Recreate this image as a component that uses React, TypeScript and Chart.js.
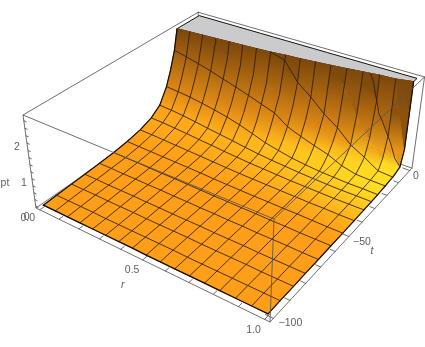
import React, { useEffect, useRef } from "react";
import { Chart, registerables } from "chart.js";

Chart.register(...registerables);

const W = 425;
const H = 347;

// Data
const rCols = [0, 0.0625, 0.125, 0.1875, 0.25, 0.3125, 0.375, 0.4375, 0.5, 0.5625, 0.625, 0.6875, 0.75, 0.8125, 0.875, 0.9375, 1];
const tRows = [-100, -92.8, -84.5, -76.9, -68.2, -59.5, -51, -42.5, -35, -29, -24, -21, -17.8, -14.5, -11.5, -8.5, -5.6, -3.3, -3.1, -2.9];
const meshRows = [-92.8, -84.5, -76.9, -68.2, -59.5, -51, -42.5, -35, -29, -24, -17.8, -11.5];
const n = null;
const z100 = [0.01, 0.01, 0.01, 0.01, 0.01, 0.01, 0.01, 0.01, 0, 0, 0, 0, 0, 0, 0, 0, 0];
const z92 = [0.03, 0.03, 0.03, 0.03, 0.02, 0.02, 0.02, 0.02, 0.02, 0.02, 0.01, 0.01, 0.01, 0.01, 0.01, 0.01, 0.01];
const z84 = [0.05, 0.05, 0.05, 0.04, 0.04, 0.04, 0.03, 0.03, 0.03, 0.03, 0.02, 0.02, 0.02, 0.02, 0.01, 0.01, 0.01];
const z76 = [0.07, 0.07, 0.06, 0.06, 0.06, 0.05, 0.05, 0.04, 0.04, 0.04, 0.03, 0.03, 0.03, 0.02, 0.02, 0.02, 0.02];
const z68 = [0.09, 0.09, 0.08, 0.08, 0.07, 0.07, 0.06, 0.06, 0.05, 0.05, 0.04, 0.04, 0.03, 0.03, 0.03, 0.02, 0.02];
const z60 = [0.12, 0.11, 0.11, 0.1, 0.09, 0.09, 0.08, 0.07, 0.06, 0.06, 0.05, 0.05, 0.04, 0.04, 0.03, 0.03, 0.03];
const z52 = [0.17, 0.16, 0.15, 0.14, 0.13, 0.12, 0.11, 0.09, 0.08, 0.07, 0.06, 0.06, 0.05, 0.05, 0.04, 0.03, 0.03];
const z44 = [0.25, 0.24, 0.22, 0.2, 0.18, 0.16, 0.14, 0.12, 0.1, 0.09, 0.08, 0.07, 0.06, 0.05, 0.05, 0.04, 0.04];
const z37 = [0.385, 0.37, 0.34, 0.31, 0.27, 0.24, 0.2, 0.17, 0.14, 0.12, 0.1, 0.08, 0.07, 0.06, 0.05, 0.05, 0.05];
const z31 = [0.594, 0.57, 0.53, 0.48, 0.42, 0.37, 0.32, 0.26, 0.21, 0.17, 0.14, 0.11, 0.09, 0.07, 0.06, 0.06, 0.055];
const z24 = [1.02, 0.99, 0.95, 0.89, 0.82, 0.74, 0.64, 0.51, 0.38, 0.29, 0.21, 0.16, 0.12, 0.1, 0.08, 0.08, 0.07];
const z21 = [1.42, 1.38, 1.32, 1.24, 1.14, 1.03, 0.92, 0.79, 0.66, 0.5, 0.38, 0.3, 0.23, 0.15, 0.1, 0.09, 0.08];
const z18 = [1.95, 1.87, 1.78, 1.68, 1.56, 1.45, 1.33, 1.2, 1.07, 0.8, 0.65, 0.52, 0.4, 0.22, 0.12, 0.1, 0.09];
const z14 = [n, n, n, 2.4, 2.15, 2.0, 1.85, 1.7, 1.5, 1.25, 1.05, 0.85, 0.65, 0.4, 0.25, 0.13, 0.11];
const z11 = [n, n, n, n, n, n, n, n, 2.4, 1.9, 1.6, 1.25, 0.98, 0.62, 0.4, 0.15, 0.12];
const z8 = [n, n, n, n, n, n, n, n, n, n, n, n, 2.1, 1.4, 0.85, 0.4, 0.16];
const z5 = [n, n, n, n, n, n, n, n, n, n, n, n, n, n, 1.85, 1.0, 0.21];
const z3a = [n, n, n, n, n, n, n, n, n, n, n, n, n, n, n, n, 0.65];
const z3b = [n, n, n, n, n, n, n, n, n, n, n, n, n, n, n, n, 1.8];
const z3c = [n, n, n, n, n, n, n, n, n, n, n, n, n, n, n, n, n];
const zRows = [z100, z92, z84, z76, z68, z60, z52, z44, z37, z31, z24, z21, z18, z14, z11, z8, z5, z3a, z3b, z3c];
const clipT = [-15.6, -15.1, -14.6, -14.1, -13.6, -13.1, -12.6, -12, -11, -10.4, -9.5, -8.6, -7.6, -6.5, -5.4, -4.8, -3];
const zClip = 2.53;
const wiggleT = -5.6;
const wiggleR = [0.84, 0.855, 0.865, 0.875, 0.89, 0.905, 0.925, 0.95, 0.975, 1];
const wiggleZ = [2.5, 2.3, 2.05, 1.85, 1.5, 1.35, 1.1, 0.8, 0.4, 0.21];

const rRange = [-0.02, 1.02];
const tRange = [-102, 2];
const zRange = [-0.05, 2.55];
const rTicks = [0, 0.1, 0.2, 0.3, 0.4, 0.5, 0.6, 0.7, 0.8, 0.9, 1];
const tTicks = [-100, -90, -80, -70, -60, -50, -40, -30, -20, -10, 0];
const zTicks = [0, 0.2, 0.4, 0.6, 0.8, 1, 1.2, 1.4, 1.6, 1.8, 2, 2.2, 2.4];

// [text, r, t, z, dx, dy, italic]
const labels: [string, number, number, number, number, number, boolean][] = [
  ["0.0", 0, -102, -0.05, -12, 8, false],
  ["0.5", 0.5, -102, -0.05, -10.5, 10, false],
  ["1.0", 1, -102, -0.05, -11, 11, false],
  ["r", 0.5, -102, -0.05, -20, 25, true],
  ["0", 1.02, 0, -0.05, 6, 6, false],
  ["\u221250", 1.02, -50, -0.05, 13, 6, false],
  ["\u2212100", 1.02, -100, -0.05, 17, 5, false],
  ["t", 1.02, -50, -0.05, 23, 15, true],
  ["0", -0.02, -102, 0, -9, 11, false],
  ["1", -0.02, -102, 1, -7, 11, false],
  ["2", -0.02, -102, 2, -9, 11, false],
  ["pt", -0.02, -102, 1, -26, 11, false],
];

// Camera of the picture, in box-normalised coordinates
function project(r: number, t: number, z: number) {
  const a = (r - rRange[0]) / (rRange[1] - rRange[0]);
  const b = (t - tRange[0]) / (tRange[1] - tRange[0]);
  const c = (z - zRange[0]) / (zRange[1] - zRange[0]);
  const w = 1 - 0.1629 * a + 0.21 * b - 0.0651 * c;
  return {
    x: (36 + 190.02 * a + 205.39 * b - 14.5 * c) / w,
    y: (208 + 61.55 * a - 93.5 * b - 100.49 * c) / w,
  };
}

function vertex(ti: number, ri: number) {
  const z = zRows[ti][ri];
  if (z === null) return { r: rCols[ri], t: clipT[ri], z: zClip, clipped: true };
  return { r: rCols[ri], t: tRows[ti], z, clipped: false };
}

const clamp = (v: number) => Math.max(0, Math.min(1, v));
const smooth = (a: number, b: number, v: number) => {
  const s = clamp((v - a) / (b - a));
  return s * s * (3 - 2 * s);
};
function shade(r: number, t: number, z: number) {
  const O = [255, 158, 24];
  const Y = [255, 225, 35];
  const D = [125, 72, 12];
  const y = smooth(-58, -16, t) * (0.25 + 0.75 * Math.pow(r, 1.5)) * (1 - smooth(0.25, 1.1, z));
  const d = clamp((z - 0.5) / 2);
  const c = O.map((o, i) => {
    const m = o + (Y[i] - o) * y;
    return Math.round(m + (D[i] - m) * d);
  });
  return `rgb(${c[0]},${c[1]},${c[2]})`;
}
const edgeZ = (p: { z: number }, q: { z: number }) => (p.z + q.z) / 2 + 0.35 * Math.abs(p.z - q.z);

const lineDs = (pts: { x: number; y: number }[], color: string, width: number) => ({
  data: pts,
  showLine: true,
  fill: false,
  borderColor: color,
  borderWidth: width,
  pointRadius: 0,
  borderCapStyle: "round",
  borderJoinStyle: "round",
  clip: false,
});

function buildDatasets(ctx: CanvasRenderingContext2D) {
  const out: any[] = [];
  const BOX = "rgba(85,85,85,0.85)";
  const [r0, r1] = rRange;
  const [t0, t1] = tRange;
  const [z0, z1] = zRange;
  const P = project;

  // box edges behind the surface
  out.push(lineDs([P(r0, t0, z0), P(r0, t1, z0), P(r1, t1, z0)], BOX, 1));
  out.push(lineDs([P(r0, t1, z0), P(r0, t1, z1)], BOX, 1));

  // clipped top
  const top = rCols.map((r, i) => P(r, clipT[i], zClip));
  const back = rCols.map((r) => P(r, 0, zClip)).reverse();
  const poly = [...top, ...back, top[0]];
  out.push({
    data: poly,
    showLine: true,
    fill: "shape",
    backgroundColor: "rgb(203,203,205)",
    borderColor: "rgb(20,15,10)",
    borderWidth: 1,
    pointRadius: 0,
    clip: false,
  });

  // surface cells
  for (let ti = 0; ti < tRows.length - 1; ti++) {
    for (let ri = 0; ri < rCols.length - 1; ri++) {
      const a = vertex(ti, ri);
      const b = vertex(ti, ri + 1);
      const c = vertex(ti + 1, ri + 1);
      const d = vertex(ti + 1, ri);
      if (a.clipped && b.clipped) continue;
      const pts = [a, b, c, d, a].map((v) => P(v.r, v.t, v.z));
      const p0 = { x: (pts[0].x + pts[1].x) / 2, y: (pts[0].y + pts[1].y) / 2 };
      const p1 = { x: (pts[2].x + pts[3].x) / 2, y: (pts[2].y + pts[3].y) / 2 };
      const g = ctx.createLinearGradient(p0.x, p0.y, p1.x, p1.y);
      const rm = (a.r + b.r) / 2;
      g.addColorStop(0, shade(rm, (a.t + b.t) / 2, edgeZ(a, b)));
      g.addColorStop(1, shade(rm, (c.t + d.t) / 2, edgeZ(c, d)));
      out.push({
        data: pts,
        showLine: true,
        fill: "shape",
        backgroundColor: g,
        borderColor: g,
        borderWidth: 1,
        pointRadius: 0,
        clip: false,
      });
    }
  }

  // mesh: constant r
  const MESH = "rgba(45,28,10,0.85)";
  const EDGE = "rgb(15,10,5)";
  rCols.forEach((r, ri) => {
    const pts = tRows.map((_, ti) => vertex(ti, ri)).map((v) => P(v.r, v.t, v.z));
    const edge = ri === 0 || ri === rCols.length - 1;
    out.push(lineDs(pts, edge ? EDGE : MESH, edge ? 1.2 : 1));
  });
  // mesh: constant t
  tRows.forEach((t, ti) => {
    if (!meshRows.includes(t)) return;
    const pts: { x: number; y: number }[] = [];
    rCols.forEach((_, ri) => {
      const v = vertex(ti, ri);
      const nx = ri < rCols.length - 1 ? vertex(ti, ri + 1) : v;
      if (v.clipped && nx.clipped) return;
      pts.push(P(v.r, v.t, v.z));
    });
    out.push(lineDs(pts, MESH, 1));
  });
  out.push(lineDs(wiggleR.map((r, i) => P(r, wiggleT, wiggleZ[i])), MESH, 1));
  // surface edge at the low end
  out.push(lineDs(rCols.map((r, ri) => P(r, tRows[0], z100[ri])), EDGE, 1.3));

  // box edges in front
  out.push(lineDs([P(r0, t1, z1), P(r1, t1, z1), P(r1, t0, z1), P(r0, t0, z1), P(r0, t1, z1)], BOX, 1));
  out.push(lineDs([P(r0, t0, z1), P(r0, t0, z0), P(r1, t0, z0), P(r1, t1, z0), P(r1, t1, z1)], BOX, 1));
  out.push(lineDs([P(r1, t0, z1), P(r1, t0, z0)], BOX, 1));

  // ticks
  rTicks.forEach((r) => {
    const len = r === 0 || r === 0.5 || r === 1 ? 3 : 2;
    out.push(lineDs([P(r, t0, z0), P(r, t0 + len, z0)], BOX, 1));
  });
  tTicks.forEach((t) => {
    const len = t % 50 === 0 ? 0.03 : 0.02;
    out.push(lineDs([P(r1, t, z0), P(r1 - len, t, z0)], BOX, 1));
  });
  zTicks.forEach((z) => {
    out.push(lineDs([P(r0, t0, z), P(r0 + 0.012, t0, z)], BOX, 1));
  });
  return out;
}

const textPlugin = {
  id: "boxLabels",
  afterDraw(chart: any) {
    const { ctx, scales } = chart;
    ctx.save();
    ctx.fillStyle = "#5e5e5e";
    ctx.textAlign = "center";
    ctx.textBaseline = "middle";
    for (const [text, r, t, z, dx, dy, italic] of labels) {
      const p = project(r, t, z);
      ctx.font = `${italic ? "italic " : ""}10.5px "Liberation Sans"`;
      ctx.fillText(text, scales.x.getPixelForValue(p.x) + dx, scales.y.getPixelForValue(p.y) + dy);
    }
    ctx.restore();
  },
};

export default function App() {
  const ref = useRef<HTMLCanvasElement>(null);
  useEffect(() => {
    const canvas = ref.current!;
    const ctx = canvas.getContext("2d")!;
    const datasets = buildDatasets(ctx).reverse();
    const chart = new Chart(canvas, {
      type: "scatter",
      data: { datasets },
      options: {
        animation: false,
        responsive: false,
        events: [],
        layout: { padding: 0 },
        plugins: { legend: { display: false }, tooltip: { enabled: false } },
        scales: {
          x: { type: "linear", min: 0, max: W, display: false },
          y: { type: "linear", min: 0, max: H, reverse: true, display: false },
        },
      },
      plugins: [textPlugin],
    } as any);
    return () => chart.destroy();
  }, []);
  return (
    <div style={{ position: "absolute", left: 0, top: 0, width: W, height: H, background: "#fff" }}>
      <canvas ref={ref} width={W} height={H} style={{ display: "block" }} />
    </div>
  );
}
